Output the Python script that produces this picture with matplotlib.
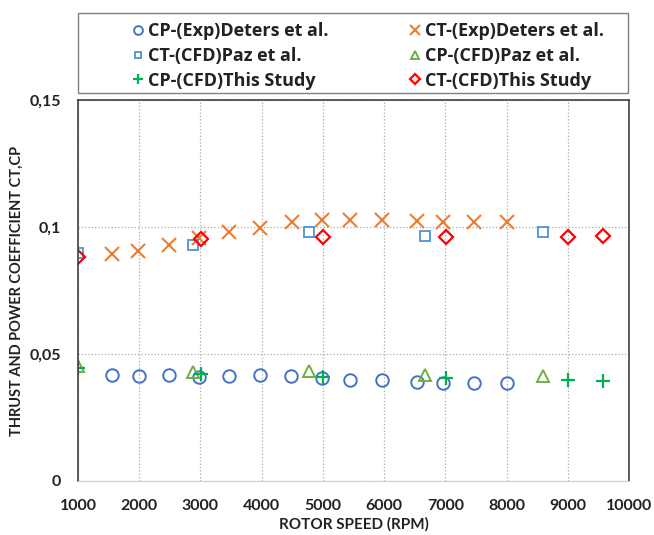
import matplotlib
matplotlib.use("Agg")
import matplotlib.pyplot as plt
from matplotlib.patches import Rectangle
from matplotlib.ticker import FuncFormatter

plt.rcParams['font.family'] = ['Lato', 'DejaVu Sans']
plt.rcParams['font.weight'] = 'bold'

# CP / CT - experiment (Deters et al.)
exp_rpm = [1550, 1990, 2490, 2980, 3470, 3970, 4480, 4990, 5450, 5970, 6530, 6960, 7470, 8000]
exp_cp = [0.0418, 0.0415, 0.0418, 0.0411, 0.0413, 0.0418, 0.0413, 0.0405, 0.0396,
          0.0398, 0.0389, 0.0385, 0.0385, 0.0385]
exp_ct_rpm = [1550, 1985, 2490, 2980, 3470, 3970, 4490, 4990, 5450, 5970, 6530, 6970, 7470, 8000]
exp_ct = [0.0892, 0.0905, 0.0929, 0.0957, 0.0981, 0.0997, 0.1020, 0.1027, 0.1027,
          0.1027, 0.1025, 0.1020, 0.1018, 0.1020]

# CFD - Paz et al.
paz_rpm = [1000, 2875, 4765, 6665, 8590]
paz_ct = [0.0896, 0.0931, 0.0979, 0.0965, 0.0979]
paz_cp = [0.0453, 0.0431, 0.0435, 0.0418, 0.0414]

# CFD - this study
study_rpm = [1000, 3010, 5000, 7010, 9010, 9570]
study_cp = [0.0445, 0.0422, 0.0409, 0.0405, 0.0398, 0.0395]
study_ct = [0.0883, 0.0952, 0.0960, 0.0961, 0.0961, 0.0965]

fig = plt.figure(figsize=(6.54, 5.35), dpi=100)
ax = fig.add_axes([78 / 654, 1 - 481 / 535, 551 / 654, 381 / 535])

ax.plot(exp_rpm, exp_cp, 'o', ls='none', mfc='none', mec='#4472C4', mew=1.4, ms=9,
        label='CP-(Exp)Deters et al.')
ax.plot(exp_ct_rpm, exp_ct, 'x', ls='none', color='#ED7D31', mew=1.5, ms=10,
        label='CT-(Exp)Deters et al.')
ax.plot(paz_rpm, paz_ct, 's', ls='none', mfc='none', mec='#5B9BD5', mew=1.4, ms=7,
        label='CT-(CFD)Paz et al.')
ax.plot(paz_rpm, paz_cp, '^', ls='none', mfc='none', mec='#70AD47', mew=1.4, ms=8,
        label='CP-(CFD)Paz et al.')
ax.plot(study_rpm, study_cp, '+', ls='none', color='#00B050', mew=1.6, ms=10,
        label='CP-(CFD)This Study')
ax.plot(study_rpm, study_ct, 'D', ls='none', mfc='none', mec='#FF0000', mew=1.6, ms=7,
        label='CT-(CFD)This Study')

ax.set_xlim(1000, 10000)
ax.set_ylim(0, 0.15)
ax.set_xticks(range(1000, 10001, 1000))
ax.set_yticks([0, 0.05, 0.1, 0.15])
ax.yaxis.set_major_formatter(FuncFormatter(lambda v, p: ('%g' % round(v, 2)).replace('.', ',')))
ax.tick_params(length=0, labelsize=11.5)
ax.tick_params(axis='x', pad=13)
ax.tick_params(axis='y', pad=12)
for lab in ax.get_xticklabels() + ax.get_yticklabels():
    lab.set_fontweight('bold')
    lab.set_color('#222222')
ax.grid(True, ls=':', color='#AAAAAA', lw=0.9)

for s in ['left', 'right', 'top']:
    ax.spines[s].set_color('#404040')
    ax.spines[s].set_linewidth(1.2)
ax.spines['bottom'].set_color('#D0D0D0')

ax.set_xlabel('ROTOR SPEED (RPM)', fontsize=11, fontweight='bold', labelpad=3, color='#222222')
ax.set_ylabel('THRUST AND POWER COEFFICIENT CT,CP', fontsize=10.5, fontweight='bold',
              labelpad=4, color='#222222')

# legend frame and entries
fig.patches.append(Rectangle((78 / 654, 1 - 93 / 535), 550 / 654, 80 / 535,
                             transform=fig.transFigure, fill=False,
                             edgecolor='#808080', lw=1.0))
h, l = ax.get_legend_handles_labels()
order = [0, 2, 4, 1, 3, 5]
leg = fig.legend([h[i] for i in order], [l[i] for i in order], ncol=2,
                 loc='upper left', bbox_to_anchor=(131 / 654, 1 - 22 / 535),
                 frameon=False, prop={'family': 'Open Sans', 'weight': 'bold', 'size': 13},
                 handlelength=0.75, handletextpad=0.2, markerscale=0.7,
                 labelspacing=0.38, borderaxespad=0, borderpad=0, columnspacing=4.4)
for t in leg.get_texts():
    t.set_color('#222222')

fig.savefig('out.png', dpi=100)
